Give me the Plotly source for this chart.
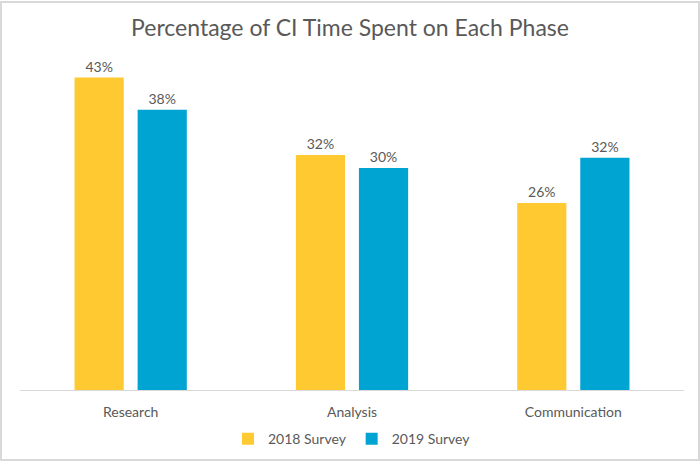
import plotly.graph_objects as go

categories = ["Research", "Analysis", "Communication"]
survey_2018 = [42.8, 32.2, 25.6]
survey_2019 = [38.4, 30.4, 31.8]
labels_2018 = ["43%", "32%", "26%"]
labels_2019 = ["38%", "30%", "32%"]
series_names = ["2018 Survey", "2019 Survey"]

W, H = 700, 467
L, R, T, B = 20, 16, 60, 72
pw, ph = W - L - R, H - T - B

def px_to_paper_x(px):
    return (px - L) / pw

def px_to_paper_y(py):
    return (H - B - py) / ph

fig = go.Figure()
fig.add_trace(go.Bar(
    x=categories, y=survey_2018, name=series_names[0],
    marker=dict(color="#FFCA31", line=dict(width=0)),
    text=labels_2018, textposition="outside",
    textfont=dict(size=14, color="#595959"), cliponaxis=False,
))
fig.add_trace(go.Bar(
    x=categories, y=survey_2019, name=series_names[1],
    marker=dict(color="#00A4D3", line=dict(width=0)),
    text=labels_2019, textposition="outside",
    textfont=dict(size=14, color="#595959"), cliponaxis=False,
))

fig.update_layout(
    width=W, height=H,
    margin=dict(l=L, r=R, t=T, b=B),
    paper_bgcolor="white", plot_bgcolor="white",
    font=dict(family="Lato, Open Sans, sans-serif", color="#595959", size=14),
    title=dict(text="Percentage of CI Time Spent on Each Phase",
               x=0.5, xanchor="center", y=1 - 28 / H, yanchor="middle",
               font=dict(size=23, color="#595959")),
    barmode="group", bargap=0.43, bargroupgap=0.22,
    showlegend=True,
    legend=dict(orientation="h", x=0.5, xanchor="center",
                y=px_to_paper_y(445), yanchor="middle",
                font=dict(size=14, color="#595959"),
                itemwidth=30, traceorder="normal"),
    xaxis=dict(showline=True, linecolor="#D9D9D9", linewidth=1,
               ticks="outside", ticklen=9, tickcolor="rgba(0,0,0,0)",
               tickfont=dict(size=14, color="#595959"),
               showgrid=False),
    yaxis=dict(range=[0, 45.2], visible=False, showgrid=False, zeroline=False),
)

fig.add_shape(type="rect", xref="paper", yref="paper",
              x0=px_to_paper_x(1), x1=px_to_paper_x(699),
              y0=px_to_paper_y(466), y1=px_to_paper_y(1),
              line=dict(color="#D9D9D9", width=2), fillcolor="rgba(0,0,0,0)",
              layer="below")

fig.write_html("out.html", config={"displayModeBar": False},
               post_script="document.body.style.margin='0';")
